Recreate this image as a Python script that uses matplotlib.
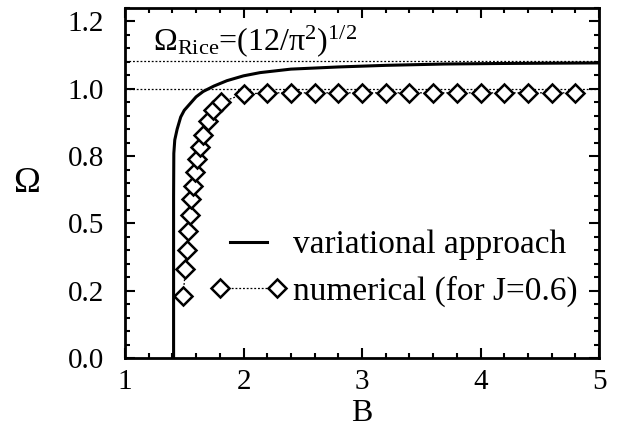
import matplotlib
matplotlib.use("Agg")
import matplotlib.pyplot as plt
from matplotlib.ticker import MultipleLocator, FixedLocator, FixedFormatter
from matplotlib.legend_handler import HandlerLine2D

plt.rcParams['font.family'] = ['Liberation Serif', 'DejaVu Serif']
plt.rcParams['mathtext.fontset'] = 'custom'
plt.rcParams['mathtext.rm'] = 'Liberation Serif'
plt.rcParams['mathtext.it'] = 'Liberation Serif:italic'

# variational approach curve
var_B = [1.41, 1.41, 1.412, 1.42, 1.44, 1.47, 1.50, 1.55, 1.60, 1.66, 1.75,
         1.86, 2.0, 2.14, 2.4, 2.8, 3.2, 3.7, 4.2, 4.6, 5.0]
var_Omega = [0.0, 0.6, 0.76, 0.81, 0.85, 0.895, 0.92, 0.945, 0.97, 0.99, 1.01,
             1.03, 1.048, 1.06, 1.073, 1.081, 1.087, 1.092, 1.094, 1.095, 1.096]

# numerical data (J=0.6)
num_B = [1.49, 1.51, 1.52, 1.53, 1.55, 1.56, 1.57, 1.59, 1.61, 1.63, 1.66,
         1.70, 1.74, 1.81, 2.0, 2.2, 2.4, 2.6, 2.8, 3.0, 3.2, 3.4, 3.6, 3.8,
         4.0, 4.2, 4.4, 4.6, 4.8]
num_Omega = [0.23, 0.33, 0.40, 0.47, 0.53, 0.59, 0.64, 0.69, 0.74, 0.785, 0.83,
             0.88, 0.92, 0.95, 0.98, 0.985, 0.985, 0.985, 0.985, 0.985, 0.985,
             0.985, 0.985, 0.985, 0.985, 0.985, 0.985, 0.985, 0.985]

# reference levels
omega_rice = 1.1027
omega_one = 1.0

xticks = [1, 2, 3, 4, 5]
xtick_labels = ['1', '2', '3', '4', '5']
yticks = [0.0, 0.25, 0.5, 0.75, 1.0, 1.25]
ytick_labels = ['0.0', '0.2', '0.5', '0.8', '1.0', '1.2']

fig = plt.figure(figsize=(6.31, 4.47), dpi=100)
ax = fig.add_axes([125/631, 1 - 358/447, 474/631, 350/447])

dots = (0, (1.5, 1.5))
ax.axhline(omega_rice, color='black', lw=0.9, ls=dots, zorder=1)
ax.axhline(omega_one, color='black', lw=0.9, ls=dots, zorder=1)

ax.plot(var_B, var_Omega, color='black', lw=2.2, solid_joinstyle='round',
        label='variational approach', zorder=3)
num_line, = ax.plot(num_B, num_Omega, color='black', lw=0.9, ls=dots, marker='D',
                    markersize=9, markerfacecolor='white', markeredgecolor='black',
                    markeredgewidth=1.8, label='numerical (for J=0.6)', zorder=4)

ax.set_xlim(1, 5)
ax.set_ylim(0, 1.3)
ax.xaxis.set_major_locator(FixedLocator(xticks))
ax.xaxis.set_major_formatter(FixedFormatter(xtick_labels))
ax.xaxis.set_minor_locator(MultipleLocator(0.2))
ax.yaxis.set_major_locator(FixedLocator(yticks))
ax.yaxis.set_major_formatter(FixedFormatter(ytick_labels))
ax.yaxis.set_minor_locator(MultipleLocator(0.05))

ax.tick_params(which='both', direction='in', top=True, right=True, width=1.5)
ax.tick_params(which='major', length=7)
ax.tick_params(which='minor', length=3.5)
ax.tick_params(axis='x', which='major', pad=8, labelsize=21)
ax.tick_params(axis='y', which='major', pad=15, labelsize=21)
for s in ax.spines.values():
    s.set_linewidth(2)

ax.set_xlabel('B', fontsize=23, labelpad=3)
ax.set_ylabel('Ω', fontsize=26, rotation=0, labelpad=30, va='center')

ax.text((153-125)/474, (358-50)/350,
        r'$\mathrm{Ω}_{\mathrm{Rice}}$=(12/π$^{2}$)$^{1/2}$',
        transform=ax.transAxes, fontsize=23, ha='left', va='baseline')

leg = ax.legend(loc='upper left', bbox_to_anchor=((220-125)/474, (358-230)/350),
                frameon=False, fontsize=24, numpoints=2, handlelength=1.71,
                handletextpad=0.48, borderpad=0, borderaxespad=0,
                labelspacing=0.45,
                handler_map={num_line: HandlerLine2D(marker_pad=0)})

fig.savefig('out.png', dpi=100)
